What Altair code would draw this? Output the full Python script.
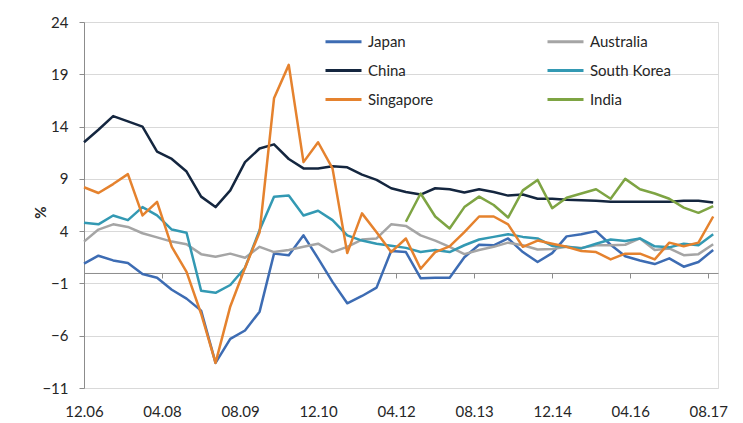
import altair as alt
import pandas as pd

# Quarterly observations, 12.06 .. 09.17
dates = [
    "2006-12-01",
    "2007-03-01", "2007-06-01", "2007-09-01", "2007-12-01",
    "2008-03-01", "2008-06-01", "2008-09-01", "2008-12-01",
    "2009-03-01", "2009-06-01", "2009-09-01", "2009-12-01",
    "2010-03-01", "2010-06-01", "2010-09-01", "2010-12-01",
    "2011-03-01", "2011-06-01", "2011-09-01", "2011-12-01",
    "2012-03-01", "2012-06-01", "2012-09-01", "2012-12-01",
    "2013-03-01", "2013-06-01", "2013-09-01", "2013-12-01",
    "2014-03-01", "2014-06-01", "2014-09-01", "2014-12-01",
    "2015-03-01", "2015-06-01", "2015-09-01", "2015-12-01",
    "2016-03-01", "2016-06-01", "2016-09-01", "2016-12-01",
    "2017-03-01", "2017-06-01", "2017-09-01",
]

japan = [0.9, 1.65, 1.2, 0.95, -0.1, -0.45, -1.6, -2.45, -3.6, -8.6, -6.3, -5.5,
         -3.7, 1.85, 1.7, 3.6, 1.4, -0.85, -2.9, -2.2, -1.4, 2.1, 2.0, -0.5,
         -0.45, -0.45, 1.5, 2.7, 2.65, 3.3, 2.0, 1.05, 1.9, 3.5, 3.7, 4.0,
         2.7, 1.6, 1.2, 0.85, 1.4, 0.6, 1.05, 2.2]
australia = [3.0, 4.15, 4.65, 4.4, 3.8, 3.4, 3.0, 2.75, 1.8, 1.55, 1.85, 1.45,
             2.5, 2.0, 2.2, 2.5, 2.8, 2.0, 2.5, 3.2, 3.3, 4.65, 4.5, 3.6,
             3.1, 2.5, 1.8, 2.2, 2.5, 2.9, 2.65, 2.25, 2.3, 2.5, 2.4, 2.65,
             2.65, 2.7, 3.3, 2.2, 2.35, 1.7, 1.8, 2.75]
china = [12.5, 13.7, 15.0, 14.5, 14.0, 11.6, 10.9, 9.7, 7.3, 6.3, 7.9, 10.6,
         11.9, 12.3, 10.9, 10.0, 10.0, 10.2, 10.1, 9.4, 8.9, 8.1, 7.75, 7.5,
         8.1, 8.0, 7.7, 8.0, 7.75, 7.4, 7.5, 7.1, 7.1, 7.0, 6.95, 6.9,
         6.8, 6.8, 6.8, 6.8, 6.8, 6.9, 6.9, 6.75]
south_korea = [4.8, 4.65, 5.5, 5.05, 6.3, 5.5, 4.15, 3.85, -1.7, -1.9, -1.15, 0.5,
               4.1, 7.3, 7.4, 5.5, 5.95, 5.05, 3.6, 3.1, 2.8, 2.6, 2.4, 2.0,
               2.2, 2.0, 2.65, 3.2, 3.45, 3.7, 3.45, 3.3, 2.6, 2.5, 2.35, 2.8,
               3.2, 3.05, 3.3, 2.55, 2.45, 2.8, 2.65, 3.7]
singapore = [8.2, 7.65, 8.5, 9.45, 5.5, 6.8, 2.5, 0.1, -3.9, -8.6, -3.2, 0.5,
             3.9, 16.7, 19.9, 10.6, 12.5, 10.0, 1.9, 5.7, 3.9, 2.0, 3.3, 0.4,
             2.0, 2.55, 3.9, 5.4, 5.4, 4.65, 2.5, 3.1, 2.8, 2.5, 2.1, 2.0,
             1.3, 1.85, 1.85, 1.3, 2.9, 2.55, 2.9, 5.4]
india = [None] * 22 + [4.9, 7.6, 5.4, 4.25, 6.3, 7.3, 6.5, 5.3, 7.9, 8.9,
                      6.2, 7.2, 7.6, 8.0, 7.1, 9.0, 8.0, 7.6, 7.1, 6.25, 5.75, 6.4]

names = ["Japan", "Australia", "China", "South Korea", "Singapore", "India"]
colors = ["#3D6CB3", "#A5A5A5", "#14263F", "#3399B3", "#E5822E", "#7EA443"]
series = [japan, australia, china, south_korea, singapore, india]

y_ticks = [-11, -6, -1, 4, 9, 14, 19, 24]
x_ticks = [(2006, 12), (2008, 4), (2009, 8), (2010, 12), (2012, 4),
           (2013, 8), (2014, 12), (2016, 4), (2017, 8)]

rows = []
for name, vals in zip(names, series):
    for d, v in zip(dates, vals):
        if v is not None:
            rows.append({"date": d, "country": name, "value": v})
df = pd.DataFrame(rows)

tick_df = pd.DataFrame({"date": [f"{y}-{m:02d}-01" for y, m in x_ticks],
                        "value": [0] * len(x_ticks)})

W, H = 634, 366
FONT = "Lato"
TXT = "#262626"
AXC = "#8c8c8c"

tick_vals = [alt.DateTime(year=y, month=m, date=1, utc=True) for y, m in x_ticks]
x_scale = alt.Scale(type="utc", domain=[alt.DateTime(year=2006, month=12, date=1, utc=True),
                                        alt.DateTime(year=2017, month=10, date=1, utc=True)])
y_scale = alt.Scale(domain=[-11, 24], nice=False, zero=False)

zero_axis = alt.Chart(tick_df).mark_point(opacity=0).encode(
    x=alt.X("date:T", scale=x_scale,
            axis=alt.Axis(values=tick_vals, labels=False, grid=False, domain=True,
                          domainColor=AXC, domainWidth=1, ticks=True, tickColor=AXC,
                          tickSize=5, offset=-H * 11 / 35, orient="bottom", title=None)),
    y=alt.Y("value:Q", scale=y_scale, axis=None),
)

lines = alt.Chart(df).mark_line(strokeWidth=2.5, strokeJoin="round").encode(
    x=alt.X("date:T", scale=x_scale,
            axis=alt.Axis(values=tick_vals, labelExpr="utcFormat(datum.value, '%m.%y')",
                          grid=False, domain=False, ticks=False, tickSize=0,
                          labelFlush=False, labelOverlap=False,
                          labelPadding=16, labelFontSize=15, labelColor=TXT,
                          labelFont=FONT, title=None, orient="bottom")),
    y=alt.Y("value:Q", scale=y_scale,
            axis=alt.Axis(values=y_ticks, grid=True, gridColor="#d9d9d9", gridWidth=1,
                          domainColor=AXC, tickColor=AXC, tickSize=5, labelPadding=11,
                          labelFontSize=15, labelColor=TXT, labelFont=FONT,
                          title="%", titleFontWeight="bold", titleFontSize=15,
                          titleColor=TXT, titleFont=FONT, titleX=-44, titleY=190,
                          titleAngle=-90, titleAlign="center", titleBaseline="middle",
                          orient="left")),
    color=alt.Color("country:N", scale=alt.Scale(domain=names, range=colors),
                    legend=alt.Legend(orient="none", legendX=240, legendY=0, columns=2,
                                      direction="horizontal",
                                      title=None, symbolType="stroke", symbolStrokeWidth=3,
                                      symbolSize=1296, labelFontSize=15, labelColor=TXT,
                                      labelFont=FONT, columnPadding=107, rowPadding=1,
                                      labelOffset=5)),
)

chart = alt.layer(zero_axis, lines).resolve_axis(x="independent", y="independent").properties(
    width=W, height=H,
    autosize=alt.AutoSizeParams(type="none"),
    padding={"left": 76, "top": 14, "right": 17, "bottom": 35},
).configure_view(stroke=None).configure(background="white")

chart.save("out.html", embed_options={"renderer": "svg", "actions": False})
